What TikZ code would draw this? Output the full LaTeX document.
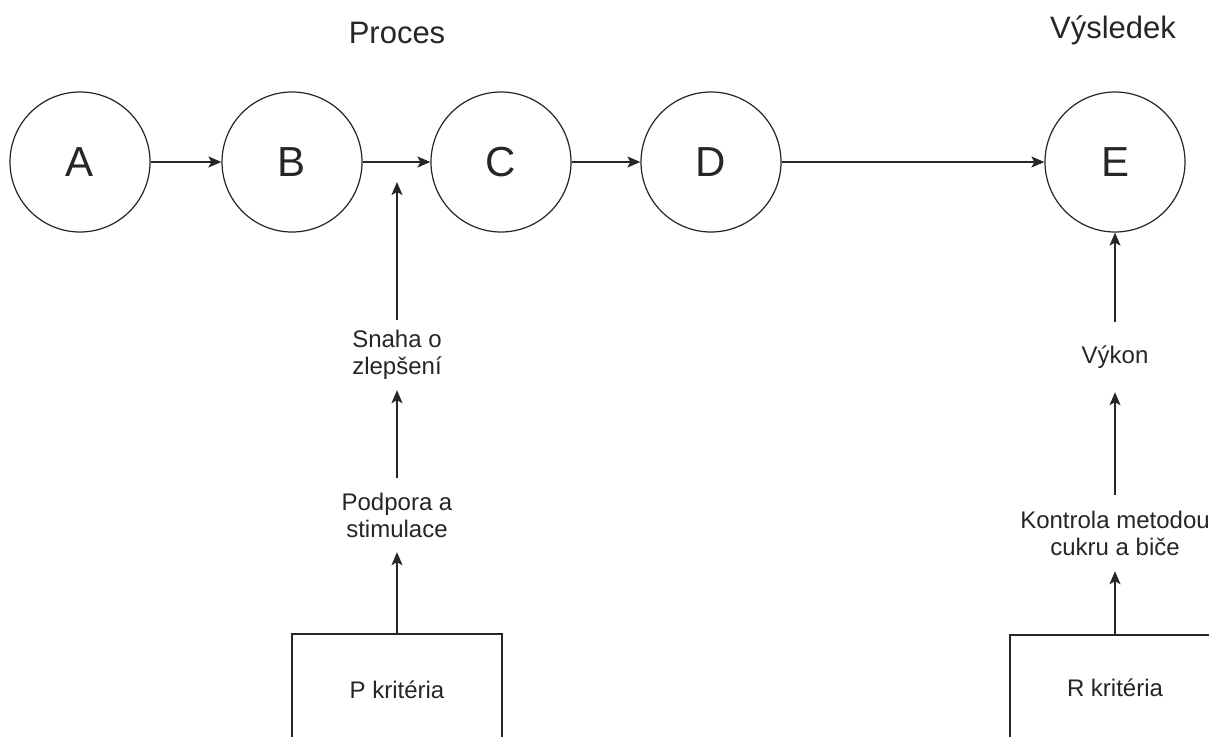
\documentclass[tikz,border=0pt]{standalone}
\usepackage{fontspec}
\setmainfont{Liberation Sans}
\usetikzlibrary{arrows.meta}
\begin{document}
\begin{tikzpicture}[x=1pt,y=-1pt,
  every node/.style={text=black!85},
  stage/.style={circle,draw=black!85,line width=1.2pt,minimum size=140pt,inner sep=0pt,font=\fontsize{42}{48}\selectfont},
  heading/.style={font=\fontsize{31}{36}\selectfont},
  label/.style={align=center,inner sep=0pt,font=\fontsize{24}{27}\selectfont},
  critbox/.style={rectangle,draw=black!85,line width=1.2pt,inner sep=0pt,font=\fontsize{24}{28}\selectfont},
  flow/.style={draw=black!85,line width=1.5pt,-{Stealth[length=13pt,width=11pt,inset=3pt]}}]
\useasboundingbox (0,0) rectangle (1209,736);
\fill[white] (0,0) rectangle (1209,736);

% headings
\node[heading] (proces) at (397,33) {Proces};
\node[heading] (vysledek) at (1113,30) {Výsledek};

% stages of the process
\node[stage] (a) at (80,162) {A};
\node[stage] (b) at (292,162) {B};
\node[stage] (c) at (501,162) {C};
\node[stage] (d) at (711,162) {D};
\node[stage] (e) at (1115,162) {E};

\draw[flow] (a) -- (b);
\draw[flow] (b) -- (c);
\draw[flow] (c) -- (d);
\draw[flow] (d) -- (e);

% process branch
\coordinate (bc) at (397,182);
\node[label,minimum height=70pt] (snaha) at (397,355) {Snaha o\\zlepšení};
\node[label,minimum height=74pt] (podpora) at (397,515) {Podpora a\\stimulace};
\node[critbox,minimum width=210pt,minimum height=112pt] (pk) at (397,690) {P kritéria};

\draw[flow] (pk.north) -- (podpora.south);
\draw[flow] (podpora.north) -- (snaha.south);
\draw[flow] (snaha.north) -- (bc);

% result branch
\node[label,minimum height=70pt] (vykon) at (1115,357) {Výkon};
\node[label,minimum height=76pt] (kontrola) at (1115,533) {Kontrola metodou\\cukru a biče};
\node[critbox,minimum width=210pt,minimum height=106pt] (rk) at (1115,688) {R kritéria};

\draw[flow] (rk.north) -- (kontrola.south);
\draw[flow] (kontrola.north) -- (vykon.south);
\draw[flow] (vykon.north) -- (e.south);
\end{tikzpicture}
\end{document}
